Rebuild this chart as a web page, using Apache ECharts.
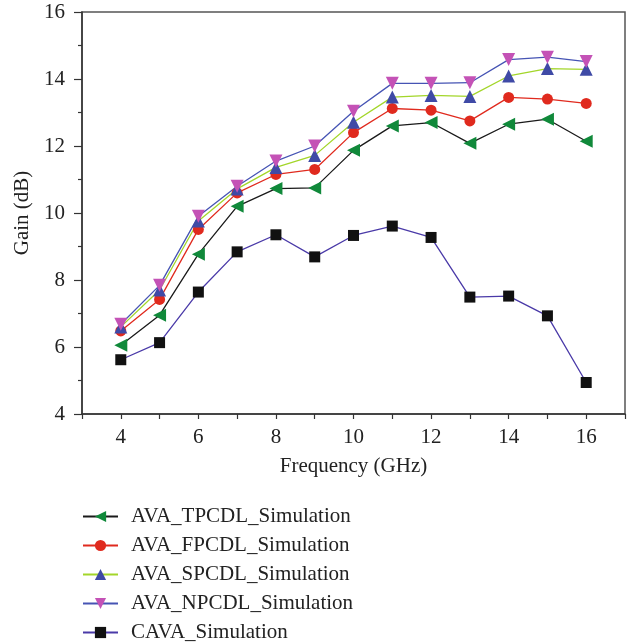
<!DOCTYPE html>
<html><head><meta charset="utf-8">
<script src="https://cdn.jsdelivr.net/npm/echarts@6/dist/echarts.min.js"></script>
<style>html,body{margin:0;padding:0;background:#fff}#c{width:637px;height:643px}</style>
</head><body><div id="c"></div>
<script>
const freq = [4,5,6,7,8,9,10,11,12,13,14,15,16];
const tpcdl = [6.05,6.95,8.77,10.2,10.73,10.75,11.87,12.6,12.7,12.08,12.65,12.8,12.14];
const fpcdl = [6.48,7.42,9.51,10.6,11.15,11.3,12.4,13.12,13.07,12.75,13.45,13.4,13.27];
const spcdl = [6.6,7.7,9.76,10.72,11.36,11.72,12.71,13.46,13.51,13.48,14.09,14.31,14.29];
const npcdl = [6.68,7.84,9.9,10.8,11.55,12.0,13.04,13.87,13.87,13.89,14.58,14.65,14.52];
const cava = [5.62,6.13,7.64,8.84,9.35,8.69,9.33,9.61,9.27,7.49,7.52,6.93,4.94];
const names = ['AVA_TPCDL_Simulation','AVA_FPCDL_Simulation','AVA_SPCDL_Simulation','AVA_NPCDL_Simulation','CAVA_Simulation'];
const xTickLabels = ['4','6','8','10','12','14','16'];

const font = 'Liberation Serif';
const fs = 21;
const pair = a => freq.map((f,i)=>[f,a[i]]);
function ser(name, data, lineColor, markColor, symbol, rot, size){
  return {name, type:'line', data:pair(data), symbol, symbolRotate:rot, symbolSize:size,
    lineStyle:{color:lineColor,width:1.3}, itemStyle:{color:markColor,borderWidth:0}, z: 3};
}
const chart = echarts.init(document.getElementById('c'), null, {renderer:'canvas'});
chart.setOption({
  animation:false,
  textStyle:{fontFamily:font},
  grid:{left:82,right:12,top:12,bottom:229,show:true,borderColor:'#555',borderWidth:1.5},
  xAxis:{type:'value',min:3,max:17,interval:1,
    name:'Frequency (GHz)',nameLocation:'middle',nameGap:42,
    nameTextStyle:{fontFamily:font,fontSize:fs,color:'#222'},
    axisLine:{lineStyle:{color:'#333',width:1.5}},
    axisTick:{length:5,lineStyle:{color:'#333',width:1.2}},
    axisLabel:{margin:13,fontFamily:font,fontSize:fs,color:'#222',
      formatter:v=> xTickLabels.includes(String(v))?String(v):''},
    splitLine:{show:false}},
  yAxis:{type:'value',min:4,max:16,interval:2,
    name:'Gain (dB)',nameLocation:'middle',nameGap:48,
    nameTextStyle:{fontFamily:font,fontSize:fs,color:'#222'},
    axisLine:{show:true,lineStyle:{color:'#333',width:1.5}},
    axisTick:{show:true,length:8,lineStyle:{color:'#333',width:1.2}},
    minorTick:{show:true,splitNumber:2,length:4,lineStyle:{color:'#333',width:1.2}},
    axisLabel:{margin:17,fontFamily:font,fontSize:fs,color:'#222'},
    splitLine:{show:false}},
  legend:{orient:'vertical',left:82,top:506,height:140,padding:0,itemWidth:35,itemHeight:14,itemGap:8,
    textStyle:{fontFamily:font,fontSize:fs,color:'#222',padding:[0,0,0,8],lineHeight:21},
    data:names},
  series:[
    ser(names[0],tpcdl,'#1a1a1a','#10893a','triangle',90,13),
    ser(names[1],fpcdl,'#e02a1e','#e02a1e','circle',0,11),
    ser(names[2],spcdl,'#a3d62a','#3f4aa6','triangle',0,13),
    ser(names[3],npcdl,'#4654b4','#c452b6','triangle',180,13),
    ser(names[4],cava,'#4a3aa8','#111111','rect',0,11)
  ]
});
</script></body></html>
